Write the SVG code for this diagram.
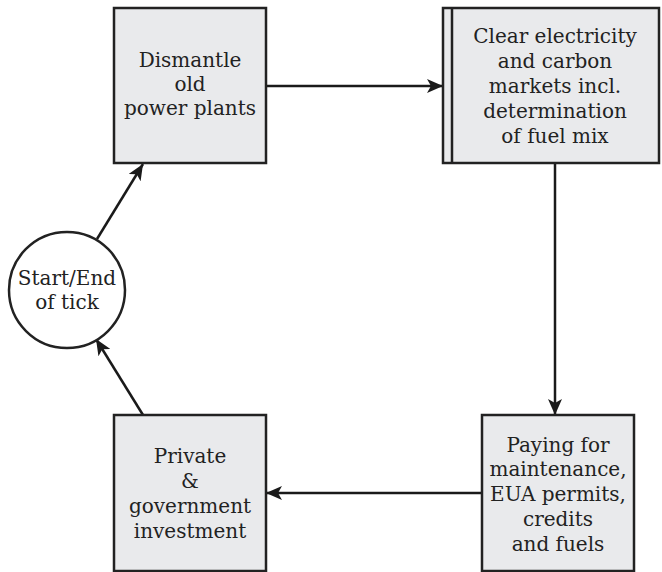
<svg xmlns="http://www.w3.org/2000/svg" width="662" height="572" viewBox="0 0 662 572">
<style>
.box{fill:#e9eaec;stroke:#222;stroke-width:2.5}
.t{font-family:"DejaVu Serif",serif;font-size:20px;fill:#222;text-anchor:middle}
.c{fill:none;stroke:#1a1a1a;stroke-width:2.5}
</style>
<defs>
<marker id="ah" viewBox="0 0 16 14" refX="16" refY="7" markerWidth="16" markerHeight="14" markerUnits="userSpaceOnUse" orient="auto">
<path d="M0,0 L16,7 L0,14 L4,7 Z" fill="#1a1a1a"/>
</marker>
</defs>
<rect width="662" height="572" fill="#fff"/>
<g id="connectors">
<line class="c" x1="266" y1="86" x2="443" y2="86" marker-end="url(#ah)"/>
<line class="c" x1="555" y1="163" x2="555" y2="415" marker-end="url(#ah)"/>
<line class="c" x1="482" y1="493" x2="266" y2="493" marker-end="url(#ah)"/>
<line class="c" x1="143" y1="415" x2="96" y2="339" marker-end="url(#ah)"/>
<line class="c" x1="97" y1="239" x2="143" y2="164" marker-end="url(#ah)"/>
</g>
<g id="dismantle">
<rect class="box" x="114" y="8" width="152" height="155"/>
<text class="t" x="190" y="67">Dismantle</text>
<text class="t" x="190" y="91">old</text>
<text class="t" x="190" y="115">power plants</text>
</g>
<g id="clear">
<rect class="box" x="443" y="8" width="216" height="155"/>
<line x1="452" y1="8" x2="452" y2="163" stroke="#222" stroke-width="2.5"/>
<text class="t" x="555" y="43">Clear electricity</text>
<text class="t" x="555" y="68">and carbon</text>
<text class="t" x="555" y="93">markets incl.</text>
<text class="t" x="555" y="118">determination</text>
<text class="t" x="555" y="143">of fuel mix</text>
</g>
<g id="paying">
<rect class="box" x="482" y="415" width="152" height="156"/>
<text class="t" x="558" y="452">Paying for</text>
<text class="t" x="558" y="476">maintenance,</text>
<text class="t" x="558" y="501">EUA permits,</text>
<text class="t" x="558" y="526">credits</text>
<text class="t" x="558" y="551">and fuels</text>
</g>
<g id="investment">
<rect class="box" x="114" y="415" width="152" height="156"/>
<text class="t" x="190" y="463">Private</text>
<text class="t" x="190" y="488">&amp;</text>
<text class="t" x="190" y="513">government</text>
<text class="t" x="190" y="538">investment</text>
</g>
<g id="tick">
<circle cx="67" cy="290" r="58" fill="#fff" stroke="#222" stroke-width="2.5"/>
<text class="t" x="67" y="285">Start/End</text>
<text class="t" x="67" y="309">of tick</text>
</g>
</svg>
